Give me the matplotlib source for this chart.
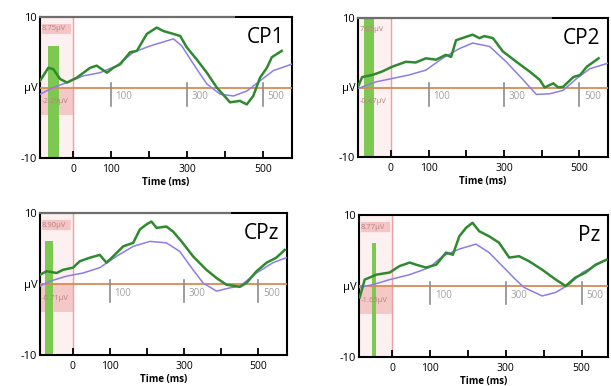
import matplotlib.pyplot as plt
import matplotlib.patches as mpatches

plt.rcParams['font.family'] = ['Open Sans', 'DejaVu Sans']

# ---- data (time in ms, amplitude in uV) ----
cp1_green_t = [-87, -65, -52, -34, -16, 10, 45, 62, 89, 106, 124, 150, 168, 194, 220, 238, 264, 282,
               299, 325, 352, 378, 413, 439, 457, 474, 492, 510, 523, 549]
cp1_green_v = [0.95, 2.8, 2.6, 1.2, 0.7, 1.4, 2.8, 3.1, 2.1, 2.8, 3.3, 5.0, 5.2, 7.6, 8.5, 8.0, 7.6, 7.3,
               5.7, 4.0, 2.1, 0.0, -2.1, -1.9, -2.4, -1.2, 1.4, 2.8, 4.3, 5.2]
cp1_blue_t = [-87, -52, -16, 27, 71, 115, 159, 203, 264, 286, 317, 352, 387, 422, 457, 492, 527, 575]
cp1_blue_v = [-0.95, 0.0, 0.7, 1.65, 2.1, 3.1, 5.0, 5.9, 6.9, 5.9, 3.3, 0.5, -0.95, -1.2, -0.5, 0.95, 2.4, 3.3]

cp2_green_t = [-87, -76, -49, -23, 4, 40, 66, 93, 120, 146, 160, 173, 200, 217, 235, 248, 271, 297,
               333, 368, 395, 408, 431, 444, 457, 484, 502, 520, 551]
cp2_green_v = [0.1, 1.5, 1.8, 2.3, 3.0, 3.7, 3.6, 4.2, 4.0, 4.7, 4.4, 6.8, 7.3, 7.6, 7.1, 7.4, 7.1, 5.2,
               3.7, 2.3, 1.1, 0.0, 0.6, 0.0, 0.1, 1.5, 1.8, 3.0, 4.2]
cp2_blue_t = [-87, -40, 4, 48, 93, 137, 182, 217, 262, 306, 351, 386, 422, 457, 493, 528, 576]
cp2_blue_v = [-0.15, 0.8, 1.3, 1.8, 2.5, 4.2, 5.6, 6.4, 5.9, 3.7, 1.1, -1.0, -0.9, -0.4, 1.3, 2.7, 3.5]

cpz_green_t = [-88, -70, -43, -26, 1, 19, 46, 73, 91, 109, 136, 163, 181, 199, 212, 226, 252, 270,
               293, 324, 360, 387, 414, 450, 468, 495, 522, 548, 571]
cpz_green_v = [1.3, 1.8, 1.55, 2.0, 2.3, 3.2, 3.7, 4.1, 3.0, 3.9, 5.3, 5.8, 7.7, 8.4, 8.8, 7.9, 8.1, 7.4,
               6.0, 3.9, 2.0, 0.85, -0.1, -0.4, 0.15, 1.8, 3.0, 3.7, 4.8]
cpz_blue_t = [-88, -61, -17, 28, 73, 118, 163, 208, 252, 288, 324, 351, 387, 423, 450, 495, 539, 575]
cpz_blue_v = [-0.3, 0.4, 1.1, 1.55, 2.3, 3.9, 5.3, 6.0, 5.8, 4.6, 2.0, 0.15, -1.0, -0.55, -0.3, 1.55, 3.0, 3.7]

pz_green_t = [-86, -73, -42, -7, 19, 46, 63, 89, 116, 142, 160, 177, 195, 212, 230, 256, 282, 309,
              335, 361, 396, 432, 458, 484, 511, 537, 566]
pz_green_v = [-1.6, 0.9, 1.6, 1.9, 2.8, 3.3, 3.0, 2.6, 3.0, 4.7, 4.4, 7.0, 8.2, 8.9, 7.7, 7.0, 6.1, 4.0,
              4.2, 3.5, 2.3, 0.9, 0.0, 1.2, 1.9, 3.0, 3.7]
pz_blue_t = [-86, -51, -7, 46, 98, 133, 177, 221, 256, 291, 326, 348, 396, 432, 467, 502, 566]
pz_blue_v = [-0.2, 0.2, 0.9, 1.6, 2.6, 4.2, 5.2, 5.9, 4.7, 2.8, 0.9, -0.2, -1.4, -0.9, 0.2, 1.9, 3.7]

channels = ['CP1', 'CP2', 'CPz', 'Pz']
green_t = [cp1_green_t, cp2_green_t, cpz_green_t, pz_green_t]
green_v = [cp1_green_v, cp2_green_v, cpz_green_v, pz_green_v]
blue_t = [cp1_blue_t, cp2_blue_t, cpz_blue_t, pz_blue_t]
blue_v = [cp1_blue_v, cp2_blue_v, cpz_blue_v, pz_blue_v]
# green marker bar: start, end (ms), top (uV)
bar_start = [-65, -72, -75, -53]
bar_end = [-36, -45, -52, -42]
bar_top = [5.9, 10, 6.0, 6.1]
max_labels = ['8.75μV', '7.65μV', '8.90μV', '8.77μV']
min_labels = ['-2.29μV', '-0.47μV', '-0.71μV', '-1.65μV']
xlims = [(-87, 576), (-87, 576), (-88, 577), (-88, 570)]

# axes boxes in pixels: left, top, right, bottom
boxes = [(40, 17, 292, 158), (358, 18, 608, 157), (40, 213, 287, 355), (359, 215, 608, 357)]

W, H = 611, 386
fig = plt.figure(figsize=(W / 100, H / 100), dpi=100)

green = '#2f8a2f'
blue = '#8a7ee8'
bar_green = '#7cc850'
pink = '#f3b7b7'
orange = '#d98a55'

for i, ch in enumerate(channels):
    l, t, r, b = boxes[i]
    ax = fig.add_axes([l / W, 1 - b / H, (r - l) / W, (b - t) / H])
    x0, x1 = xlims[i]
    ax.set_xlim(x0, x1)
    ax.set_ylim(-10, 10)

    # faint pink baseline column + label boxes
    ax.axvspan(x0, 0, color='#fdf0f0', zorder=0)
    if i != 1:
        ax.add_patch(mpatches.FancyBboxPatch((x0 + 6, 7.6), -x0 - 12, 1.4,
                                             boxstyle='round,pad=0.5,rounding_size=1.0',
                                             fc=pink, ec='none', alpha=0.75, zorder=1,
                                             mutation_aspect=1 / 25))
        ax.add_patch(mpatches.Rectangle((x0, -3.9), -x0, 3.9, fc=pink, ec='none', alpha=0.7, zorder=1))
    ax.axvline(0, color='#f0a0a0', lw=1.0, zorder=1)

    # green marker bar
    ax.add_patch(mpatches.Rectangle((bar_start[i], -10), bar_end[i] - bar_start[i], bar_top[i] + 10,
                                    fc=bar_green, ec='none', zorder=2))

    ax.text(x0 + 4, 8.3, max_labels[i], fontsize=5.5, color='#b88080', va='center', zorder=3)
    ax.text(x0 + 4, -2.0, min_labels[i], fontsize=5.5, color='#b88080', va='center', zorder=3)

    # zero line and inner gray ticks
    ax.axhline(0, color=orange, lw=1.3, zorder=3)
    for tk in [100, 300, 500]:
        ax.plot([tk, tk], [0.6, -2.6], color='#8c8c8c', lw=1.2, zorder=3)
        ax.text(tk + 12, -1.3, str(tk), fontsize=7, color='#a0a0a0', va='center', zorder=3, clip_on=True)

    ax.plot(blue_t[i], blue_v[i], color=blue, lw=1.1, zorder=4)
    ax.plot(green_t[i], green_v[i], color=green, lw=1.8, zorder=5)

    ax.text(0.97, 0.93, ch, transform=ax.transAxes, ha='right', va='top', fontsize=15, zorder=6)

    for s in ax.spines.values():
        s.set_linewidth(1.5)
        s.set_color('black')
    if i != 3:
        ax.plot([0, 0.77], [1, 1], transform=ax.transAxes, color='#6e6e6e', lw=1.5,
                clip_on=False, zorder=7)

    ax.set_xticks([0, 100, 200, 300, 400, 500])
    ax.set_xticklabels(['0', '100', '', '300', '', '500'], fontsize=7.5)
    ax.tick_params(axis='x', direction='in', length=5, width=1.3, pad=4)
    ax.set_yticks([-10, 0, 10])
    ax.set_yticklabels(['-10', 'μV', '10'], fontsize=8)
    ax.tick_params(axis='y', length=0, pad=2)
    ax.set_xlabel('Time (ms)', fontsize=7, fontweight='bold', labelpad=2)

fig.savefig('out.png', dpi=100)
